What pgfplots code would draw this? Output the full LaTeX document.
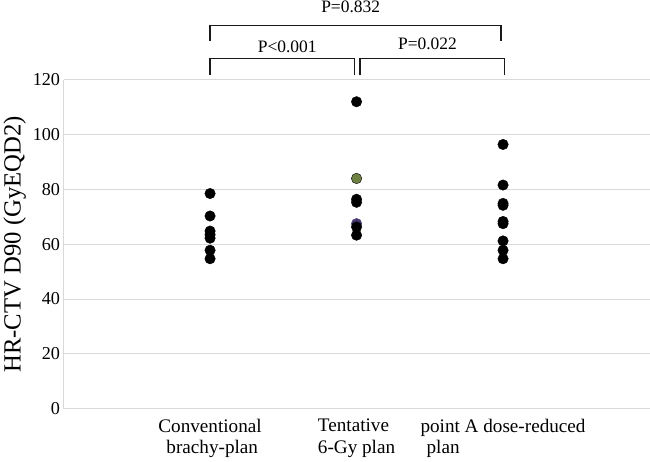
\documentclass[border=0pt]{standalone}
\usepackage{fontspec}
\setmainfont{Liberation Serif}
\usepackage{pgfplots}
\pgfplotsset{compat=1.18}
\definecolor{gridgray}{RGB}{217,217,217}
\definecolor{olivedot}{RGB}{110,128,66}
\definecolor{purpledot}{RGB}{70,55,110}
\begin{document}
\begin{tikzpicture}
\begin{axis}[
    width=581pt, height=326pt, scale only axis,
    xmin=0, xmax=4, ymin=0, ymax=120,
    ytick={0,20,...,120},
    xtick={1,2,3},
    xticklabels={Conventional\\\hspace*{8pt}brachy-plan, Tentative\\6-Gy plan, point A dose-reduced\\\hspace*{6pt}plan},
    xticklabel style={align=left, font=\fontsize{19}{21}\selectfont, yshift=-7pt},
    yticklabel style={font=\fontsize{18}{20}\selectfont},
    /pgf/number format/assume math mode=true,
    major tick length=0pt,
    ymajorgrids,
    grid style={draw=gridgray, line width=0.9pt},
    axis x line*=bottom, axis y line*=left,
    axis line style={draw=gridgray, line width=0.9pt, -},
    ylabel={HR-CTV D90 (GyEQD2)},
    ylabel style={font=\fontsize{24.5}{28}\selectfont},
    clip=false,
]
\addplot[only marks, mark=*, mark size=5.2pt, draw=purpledot, fill=purpledot] coordinates {(2,67.5)};
\addplot[only marks, mark=*, mark size=5.2pt, black] coordinates {
    (1,78.5) (1,70.3) (1,64.8) (1,63.5) (1,62.2) (1,57.8) (1,54.7)
    (2,112) (2,76.4) (2,75.3) (2,66.3) (2,63.3)
    (3,96.4) (3,81.6) (3,74.9) (3,74.2) (3,68.3) (3,67.5) (3,61.2) (3,57.8) (3,54.7)
};
\addplot[only marks, mark=*, mark size=5.2pt, draw=black, fill=olivedot] coordinates {(2,84)};

% significance brackets
\draw[line width=1.5pt, black!90] (axis cs:1,134.1) |- (axis cs:2.985,139.9) -- (axis cs:2.985,134.1);
\draw[line width=1.5pt, black!90] (axis cs:1,121.6) |- (axis cs:1.985,127.7) -- (axis cs:1.985,121.6);
\draw[line width=1.5pt, black!90] (axis cs:2.023,121.6) |- (axis cs:3.01,127.7) -- (axis cs:3.01,121.6);
\node[inner sep=1pt, font=\fontsize{17.3}{20}\selectfont] at (axis cs:1.96,146.6) {P=0.832};
\node[inner sep=1pt, font=\fontsize{17.3}{20}\selectfont] at (axis cs:1.527,132.1) {P<0.001};
\node[inner sep=1pt, font=\fontsize{17.3}{20}\selectfont] at (axis cs:2.484,133.0) {P=0.022};
\end{axis}
\end{tikzpicture}
\end{document}
